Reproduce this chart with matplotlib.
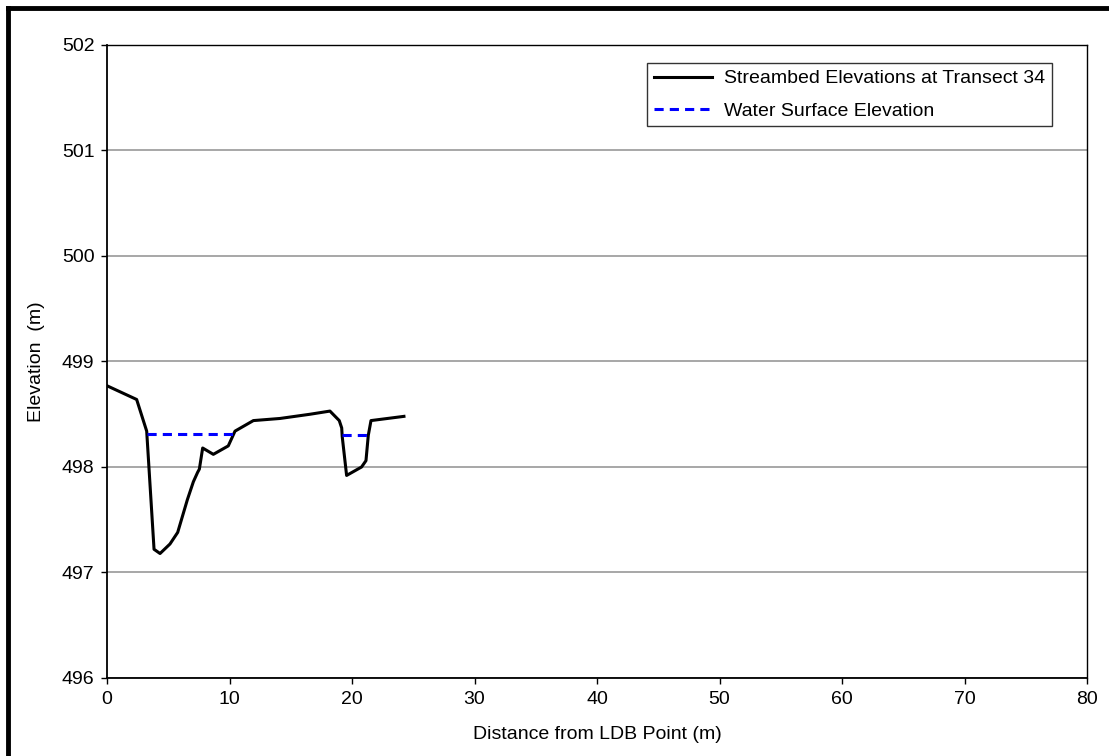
import matplotlib
matplotlib.use("Agg")
from matplotlib import pyplot as plt
from matplotlib.lines import Line2D

plt.rcParams['font.family'] = ['Liberation Sans', 'DejaVu Sans']

# streambed profile
bed_x = [0.0, 2.42, 3.24, 3.84, 4.33, 5.14, 5.77, 6.56, 7.05, 7.40, 7.54, 7.81,
         8.68, 9.90, 10.45, 11.95, 14.12, 16.57, 18.20, 18.96, 19.16, 19.20,
         19.56, 20.78, 21.14, 21.33, 21.55, 24.24]
bed_y = [498.77, 498.64, 498.34, 497.22, 497.18, 497.27, 497.38, 497.69, 497.86,
         497.95, 497.98, 498.18, 498.12, 498.20, 498.34, 498.44, 498.46, 498.50,
         498.53, 498.44, 498.37, 498.29, 497.92, 498.00, 498.06, 498.30, 498.44,
         498.48]

# water surface (two wetted sections)
ws1_x = [3.24, 10.3]
ws1_y = [498.31, 498.31]
ws2_x = [19.2, 21.55]
ws2_y = [498.30, 498.30]

fig = plt.figure(figsize=(11.09, 7.56), dpi=100)
ax = fig.add_axes([107/1109, 1 - 678/756, 980/1109, 633/756])

ax.plot(bed_x, bed_y, color='black', lw=2.2, label='Streambed Elevations at Transect 34')
ax.plot(ws1_x, ws1_y, color='#0000ff', lw=2.2, ls=(0, (3, 2)), label='Water Surface Elevation')
ax.plot(ws2_x, ws2_y, color='#0000ff', lw=2.2, ls=(0, (3, 2)))

ax.set_xlim(0, 80)
ax.set_ylim(496, 502)
ax.set_xticks(range(0, 81, 10))
ax.set_yticks(range(496, 503))
ax.yaxis.grid(True, color='#a0a0a0', lw=1.3)
ax.set_axisbelow(True)
ax.tick_params(direction='out', length=4, width=1, labelsize=14, pad=5)
for s in ax.spines.values():
    s.set_color('black')
    s.set_linewidth(1)
ax.spines['left'].set_linewidth(1.3)
ax.spines['bottom'].set_linewidth(1.3)

ax.set_xlabel('Distance from LDB Point (m)', fontsize=14, labelpad=13)
ax.set_ylabel('Elevation  (m)', fontsize=14, labelpad=12)

leg = ax.legend(loc='upper right', bbox_to_anchor=(945/980, 1 - 18/633), fontsize=14,
                frameon=True, fancybox=False, edgecolor='black', handlelength=3.0,
                borderpad=0.35, labelspacing=0.75, handletextpad=0.6, borderaxespad=0)
leg.get_frame().set_linewidth(1)

# thick chart-area border on the left and top
fig.add_artist(Line2D([8/1109, 8/1109], [0, 1 - 8/756], color='black', lw=3.5))
fig.add_artist(Line2D([8/1109, 1], [1 - 8/756, 1 - 8/756], color='black', lw=3.5))

plt.savefig('out.png', dpi=100)
